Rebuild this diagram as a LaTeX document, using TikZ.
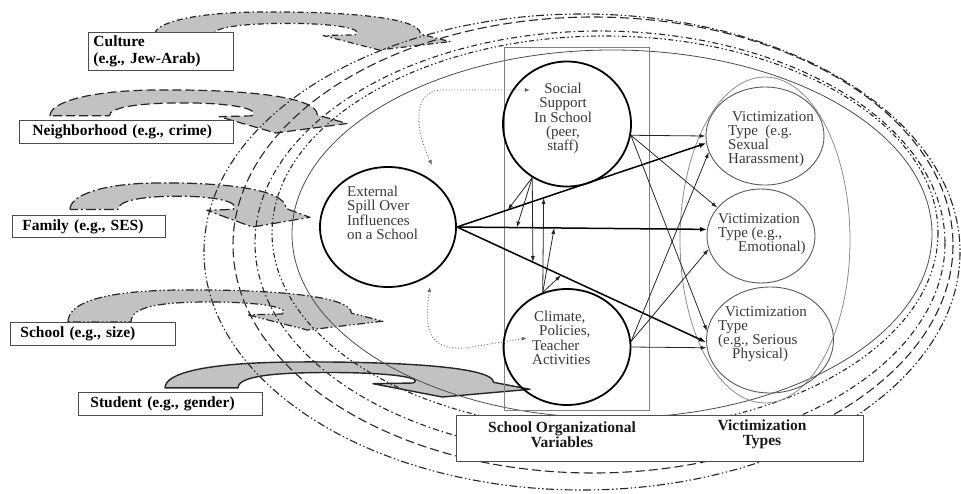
\documentclass[tikz,border=0pt]{standalone}
\usepackage{fontspec}
\setmainfont{Liberation Serif}
\usetikzlibrary{shapes.geometric,arrows.meta,calc}
\definecolor{hookgray}{HTML}{C2C2C2}
\definecolor{inkgray}{HTML}{383838}
\newcommand{\hookshape}[6]{%
  \begin{scope}[shift={(#1,#2)},xscale=#3,yscale=#4]
    \filldraw[hook,#5] (0,#6) .. controls (0,0.3) and (0.12,0.02) .. (0.35,0)
      .. controls (0.62,-0.02) and (0.9,0.12) .. (0.9,0.58)
      -- (1,0.78) -- (0.76,1) -- (0.57,0.62) -- (0.68,0.6)
      .. controls (0.71,0.45) and (0.62,0.3) .. (0.45,0.3)
      .. controls (0.3,0.3) and (0.2,0.4) .. (0.2,#6) -- cycle;
  \end{scope}}
\begin{document}
\begin{tikzpicture}[x=1pt,y=-1pt,
  hook/.style={fill=hookgray, draw=black!85, line width=1.2pt, line join=round},
  pdashdot/.style={dash pattern=on 6pt off 3pt on 1.5pt off 3pt},
  pdashed/.style={dash pattern=on 9pt off 4pt},
  plongdashdot/.style={dash pattern=on 10pt off 3pt on 2pt off 3pt},
  pdashdotdot/.style={dash pattern=on 8pt off 2.5pt on 1.5pt off 2.5pt on 1.5pt off 2.5pt},
  ring/.style={draw=black!85, line width=1.1pt},
  bigcirc/.style={ellipse, draw=black, line width=1.8pt, inner sep=0pt},
  vcirc/.style={ellipse, draw=black!65, line width=0.9pt, inner sep=0pt},
  ctext/.style={font=\fontsize{15}{14.2}\selectfont, text=inkgray, align=left, inner sep=0pt},
  lbox/.style={draw=black!70, fill=white, line width=0.9pt, font=\fontsize{15.5}{17}\selectfont\bfseries, align=left, inner ysep=0pt, anchor=north west},
  btext/.style={font=\fontsize{15.5}{15}\selectfont\bfseries, align=center, inner sep=0pt, text=black!90},
  thickarrow/.style={-{Latex[length=7pt,width=5pt]}, line width=1.5pt},
  thinarrow/.style={-{Latex[length=6pt,width=4pt]}, line width=0.8pt, draw=black!85},
  dotarrow/.style={{Latex[length=5pt,width=4pt]}-{Latex[length=5pt,width=4pt]}, dotted, line width=0.9pt, draw=black!60}
]
\useasboundingbox (0,0) rectangle (961,493);

% grey curved arrows
\hookshape{155}{12}{295}{38}{pdashdot}{0.58}
\hookshape{50}{90}{297}{43}{pdashed}{0.6}
\hookshape{70}{183}{240}{44}{plongdashdot}{0.6}
\hookshape{68}{290}{315}{40}{pdashdotdot}{0.8}
\hookshape{165}{362}{365}{35}{line width=1.4pt}{0.74}

% outer rings
\draw[ring,pdashdotdot] (582,252) ellipse [x radius=378, y radius=238];
\draw[ring,pdashed] (593,245) ellipse [x radius=360, y radius=228];
\draw[ring,pdashdot] (600,243) ellipse [x radius=345, y radius=212];
\draw[ring,dash pattern=on 5pt off 2.5pt on 1.5pt off 2.5pt on 1.5pt off 2.5pt] (605,233) ellipse [x radius=333, y radius=197];
\draw[draw=black!70, line width=0.8pt] (612,234) ellipse [x radius=320, y radius=184];

% label boxes
\node[lbox, minimum width=145pt, minimum height=38pt, text width=135pt, inner xsep=5pt] (culture) at (88,32) {Culture\\(e.g., Jew-Arab)};
\node[lbox, minimum width=214pt, minimum height=23pt, text width=188pt, inner xsep=13pt] (neigh) at (19,120) {Neighborhood (e.g., crime)};
\node[lbox, minimum width=153pt, minimum height=22pt, text width=133pt, inner xsep=10pt] (family) at (12,215) {Family (e.g., SES)};
\node[lbox, minimum width=165pt, minimum height=23pt, text width=145pt, inner xsep=10pt] (school) at (10,322) {School (e.g., size)};
\node[lbox, minimum width=184pt, minimum height=23pt, text width=160pt, inner xsep=12pt] (student) at (78,392) {Student (e.g., gender)};

% grouping frames
\draw[draw=black!50, line width=0.9pt] (504,47) rectangle (649,410);
\draw[draw=black!45, line width=0.8pt] (765,240) ellipse [x radius=85, y radius=163];

% circles
\node[bigcirc, minimum width=136pt, minimum height=120pt] (ext) at (388,227) {};
\node[bigcirc, minimum width=128pt, minimum height=125pt] (soc) at (567,124) {};
\node[bigcirc, minimum width=127pt, minimum height=116pt] (cli) at (567,347) {};
\node[vcirc, minimum width=118pt, minimum height=98pt] (v1) at (765,136) {};
\node[vcirc, minimum width=108pt, minimum height=94pt] (v2) at (761,236) {};
\node[vcirc, minimum width=127pt, minimum height=106pt] (v3) at (770,340) {};

% circle texts
\node[ctext, anchor=north west] (extt) at (347,186) {External\\Spill Over\\Influences\\on a School};
\node[ctext, anchor=north, align=center] (soct) at (563,83) {Social\\Support\\In School\\(peer,\\staff)};
\node[ctext, anchor=north west] (clit) at (532,311) {\hspace*{2pt}Climate,\\\hspace*{7pt}Policies,\\Teacher\\Activities};
\node[ctext, anchor=north west] (v1t) at (728,111) {\hspace*{4pt}Victimization\\Type~~(e.g.\\Sexual\\Harassment)};
\node[ctext, anchor=north west] (v2t) at (718,213) {Victimization\\Type (e.g.,\\\hspace*{20pt}Emotional)};
\node[ctext, anchor=north west] (v3t) at (718,306) {\hspace*{7pt}Victimization\\Type\\(e.g., Serious\\\hspace*{14pt}Physical)};

% main paths from external influences
\draw[thickarrow] (ext.east) -- (v1.187);
\draw[thickarrow] (ext.east) -- (v2.173);
\draw[thickarrow] (ext.east) -- (v3.182);

\coordinate (ma1) at ($(ext.east)!0.204!(v1.187)$);
\coordinate (ma2) at ($(ext.east)!0.348!(v1.187)$);
\coordinate (mb1) at ($(ext.east)!0.239!(v2.173)$);
\coordinate (mb2) at ($(ext.east)!0.389!(v2.173)$);
\coordinate (mc1) at ($(ext.east)!0.305!(v3.182)$);
\coordinate (mc2) at ($(ext.east)!0.418!(v3.182)$);

\draw[thinarrow] (soc.237) -- (ma1);
\draw[thinarrow] (soc.237) -- (mb1);
\draw[thinarrow] (soc.237) -- (mc1);
\draw[thinarrow] (cli.114) -- (ma2);
\draw[thinarrow] (cli.114) -- (mb2);
\draw[thinarrow] (cli.114) -- (mc2);

\draw[thinarrow] (soc.350) -- (v1.180);
\draw[thinarrow] (soc.350) -- (v2.147);
\draw[thinarrow] (soc.350) -- (v3.172);
\draw[thinarrow] (cli.5) -- (v1.196);
\draw[thinarrow] (cli.5) -- (v2.194);
\draw[thinarrow] (cli.0) -- (v3.187);

% dotted spill-over arrows
\draw[dotarrow] ($(ext.center)+(44,-62)$) .. controls ($(ext.center)+(27,-97)$) and ($(ext.center)+(24,-135)$) .. ($(ext.center)+(52,-137)$) -- ($(soc.center)+(-37,-34)$);
\draw[dotarrow] ($(ext.center)+(42,60)$) .. controls ($(ext.center)+(36,103)$) and ($(ext.center)+(40,123)$) .. ($(ext.center)+(77,121)$) -- ($(cli.center)+(-40,-9)$);

% bottom legend box
\node[draw=black!70, fill=white, line width=0.9pt, minimum width=407pt, minimum height=46pt, anchor=north west, inner sep=0pt] (legend) at (456,415) {};
\node[btext] (sov) at (562,434.5) {School Organizational\\Variables};
\node[btext] (vtt) at (762,434.5) {Victimization\\Types};
\end{tikzpicture}
\end{document}
